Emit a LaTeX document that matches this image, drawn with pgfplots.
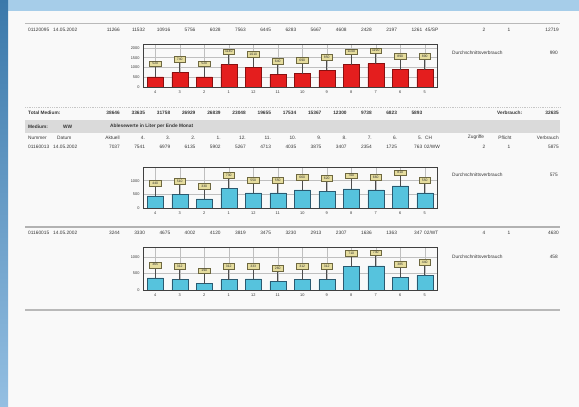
\documentclass[border=0pt]{standalone}
\usepackage{pgfplots}
\pgfplotsset{compat=1.18}
\usepackage{fontspec}
\setmainfont{Liberation Sans}
\definecolor{txt}{HTML}{363636}
\definecolor{pagec}{HTML}{F9F9F9}
\definecolor{topblue}{HTML}{A6CDE9}
\definecolor{lefttop}{HTML}{3A78AA}
\definecolor{leftbot}{HTML}{94BFE2}
\definecolor{band}{HTML}{DADADA}
\definecolor{boxfill}{HTML}{E6DD9E}
\definecolor{boxdraw}{HTML}{6E6840}
\definecolor{redbar}{HTML}{E41E1E}
\definecolor{redline}{HTML}{8A1010}
\definecolor{cyanbar}{HTML}{56C3DD}
\definecolor{cyanline}{HTML}{2B5A70}
\tikzset{rt/.style={text=txt,font=\fontsize{4.8}{5}\selectfont,inner sep=0pt},
         rb/.style={rt,font=\fontsize{4.8}{5}\selectfont\bfseries}}
\newcommand\rowvals[3][rt]{\foreach \v [count=\i from 0] in {#3} {\node[#1,anchor=east] at ({120+25.2*\i},#2) {\v};}}
\pgfplotsset{minichart/.style={
  scale only axis, width=294pt, anchor=south west,
  xmin=-0.5, xmax=11.5, xtick={0,...,11},
  xticklabels={4,3,2,1,12,11,10,9,8,7,6,5},
  ymin=0, grid=major, grid style={draw=gray!50, line width=0.4pt},
  axis line style={draw=black!75, line width=0.7pt},
  major tick length=0pt,
  tick label style={font=\fontsize{3.9}{4}\selectfont, text=txt},
  /pgf/number format/assume math mode=true,
  /pgf/number format/1000 sep={},
  ybar, bar width=16pt,
  nodes near coords,
  every node near coord/.append style={anchor=south, yshift=10pt,
     fill=boxfill, draw=boxdraw, line width=0.4pt, inner sep=0.6pt,
     font=\fontsize{3.4}{3.5}\selectfont, text=black!80,
     minimum height=5.8pt, minimum width=11.5pt},
}}
\begin{document}
\begin{tikzpicture}
\begin{scope}[x=1pt,y=1pt]
\useasboundingbox (0,0) rectangle (579,407);
\fill[pagec] (0,0) rectangle (579,407);
\fill[topblue] (0,396) rectangle (579,407);
\shade[top color=lefttop, bottom color=leftbot] (0,0) rectangle (8,407);
% lines and band
\draw[gray!55, line width=0.8pt] (25,384) -- (560,384);
\draw[gray!45, line width=0.8pt, densely dotted] (25,300) -- (560,300);
\fill[band] (25,274) rectangle (560,287);
\draw[gray!60, line width=1.2pt] (25,180) -- (560,180);
\draw[gray!55, line width=1.2pt] (25,97) -- (560,97);
% row 1
\node[rt,anchor=west] at (28,377.5) {01120095};
\node[rt,anchor=west] at (53,377.5) {14.05.2002};
\rowvals{377.5}{11266,11532,10916,5756,6028,7563,6445,6283,5667,4608,2428,2197,1261}
\node[rt,anchor=west] at (425,377.5) {45/SP};
\node[rt] at (484,377.5) {2};
\node[rt] at (509,377.5) {1};
\node[rt,anchor=east] at (559,377.5) {12719};
\node[rt,anchor=west] at (452,354) {Durchschnittsverbrauch};
\node[rt,anchor=east] at (558,354) {990};
% total row
\node[rb,anchor=west] at (28,294) {Total Medium:};
\rowvals[rb]{294}{38646,33635,31758,26929,26839,23048,19655,17534,15367,12300,9738,6823,5893}
\node[rb,anchor=west] at (497,294) {Verbrauch:};
\node[rb,anchor=east] at (559,294) {32635};
% band row
\node[rb,anchor=west] at (28,280.5) {Medium:};
\node[rb,anchor=west] at (63,280.5) {WW};
\node[rb,anchor=west] at (110,280.5) {Ablesewerte in Liter per Ende Monat};
% header
\node[rt,anchor=west] at (28,269.5) {Nummer};
\node[rt,anchor=west] at (57,269.5) {Datum};
\rowvals{269.5}{Aktuell,4.,3.,2.,1.,12.,11.,10.,9.,8.,7.,6.,5.}
\node[rt,anchor=west] at (425,269.5) {CH};
\node[rt] at (476,269.5) {Zugriffe};
\node[rt] at (505,269.5) {Pflicht};
\node[rt,anchor=east] at (559,269.5) {Verbrauch};
% row 2
\node[rt,anchor=west] at (28,260) {01160013};
\node[rt,anchor=west] at (53,260) {14.05.2002};
\rowvals{260}{7037,7541,6979,6135,5902,5267,4713,4035,3875,3407,2354,1725,763}
\node[rt,anchor=west] at (424,260) {02/WW};
\node[rt] at (484,260) {2};
\node[rt] at (509,260) {1};
\node[rt,anchor=east] at (559,260) {5875};
\node[rt,anchor=west] at (452,232) {Durchschnittsverbrauch};
\node[rt,anchor=east] at (558,232) {575};
% row 3
\node[rt,anchor=west] at (28,174) {01160015};
\node[rt,anchor=west] at (53,174) {14.05.2002};
\rowvals{174}{3244,3330,4675,4002,4120,3819,3475,3230,2913,2307,1636,1363,347}
\node[rt,anchor=west] at (424,174) {02/WT};
\node[rt] at (484,174) {4};
\node[rt] at (509,174) {1};
\node[rt,anchor=east] at (559,174) {4630};
\node[rt,anchor=west] at (452,150) {Durchschnittsverbrauch};
\node[rt,anchor=east] at (558,150) {458};
\end{scope}
% chart 1
\begin{axis}[minichart, at={(143pt,320pt)}, height=43pt, ymax=2200, ytick={0,500,1000,1500,2000}]
\addplot[fill=redbar, draw=redline, line width=0.5pt,
  error bars/.cd, y dir=plus, y fixed=512, error mark=none,
  error bar style={draw=black!70, line width=0.6pt}]
  coordinates {(0,520) (1,740) (2,520) (3,1140) (4,1010) (5,640) (6,690) (7,850) (8,1140) (9,1190) (10,890) (11,890)};
\end{axis}
% chart 2
\begin{axis}[minichart, at={(143pt,199pt)}, height=41pt, ymax=1500, ytick={0,500,1000}]
\addplot[fill=cyanbar, draw=cyanline, line width=0.5pt,
  error bars/.cd, y dir=plus, y fixed=366, error mark=none,
  error bar style={draw=black!70, line width=0.6pt}]
  coordinates {(0,440) (1,510) (2,330) (3,730) (4,550) (5,550) (6,660) (7,620) (8,700) (9,660) (10,810) (11,550)};
\end{axis}
% chart 3
\begin{axis}[minichart, at={(143pt,117pt)}, height=43pt, ymax=1300, ytick={0,500,1000}]
\addplot[fill=cyanbar, draw=cyanline, line width=0.5pt,
  error bars/.cd, y dir=plus, y fixed=302, error mark=none,
  error bar style={draw=black!70, line width=0.6pt}]
  coordinates {(0,365) (1,312) (2,190) (3,312) (4,333) (5,260) (6,312) (7,312) (8,710) (9,730) (10,385) (11,440)};
\end{axis}
\end{tikzpicture}
\end{document}
